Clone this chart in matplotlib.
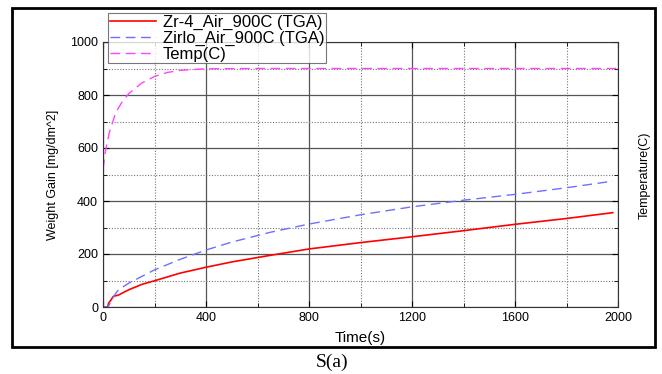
import numpy as np
import matplotlib.pyplot as plt
from matplotlib.patches import Rectangle
from matplotlib.ticker import MultipleLocator

plt.rcParams['font.family'] = ['Liberation Sans', 'DejaVu Sans']

# values
zr4_t = [0, 18, 22, 30, 40, 60, 100, 150, 200, 300, 400, 500, 650, 800, 1000, 1200, 1400, 1600, 1800, 1980]
zr4_w = [0, 0, 15, 25, 40, 45, 65, 85, 99, 128, 150, 170, 195, 219, 243, 265, 288, 312, 334, 356]

zirlo_t = [0, 20, 30, 45, 60, 100, 150, 200, 300, 400, 500, 650, 800, 1000, 1200, 1400, 1600, 1800, 1980]
zirlo_w = [0, 0, 20, 45, 65, 90, 115, 140, 180, 215, 245, 282, 313, 348, 378, 403, 425, 450, 475]

temp_t = [0, 10, 25, 50, 75, 100, 150, 200, 250, 300, 400, 600, 1000, 1500, 2000]
temp_c = [520, 590, 660, 735, 775, 805, 845, 870, 885, 893, 899, 900, 900, 900, 900]

fig = plt.figure(figsize=(6.62, 3.74), dpi=100)
ax = fig.add_axes([103/662, 1 - 307/374, 515/662, 265/374])

ax.plot(zr4_t, zr4_w, color='red', lw=1.2, label='Zr-4_Air_900C (TGA)')
ax.plot(zirlo_t, zirlo_w, color='#6f6fff', lw=1.0, ls=(0, (7, 4)), label='Zirlo_Air_900C (TGA)')
ax.plot(temp_t, temp_c, color='#ff44ff', lw=1.0, ls=(0, (7, 4)), label='Temp(C)')

ax.set_xlim(0, 2000)
ax.set_ylim(0, 1000)
ax.xaxis.set_major_locator(MultipleLocator(400))
ax.xaxis.set_minor_locator(MultipleLocator(200))
ax.yaxis.set_major_locator(MultipleLocator(200))
ax.yaxis.set_minor_locator(MultipleLocator(100))
ax.grid(which='major', color='#555555', lw=0.9)
ax.grid(which='minor', color='#777777', lw=0.8, ls=(0, (1, 1.5)))
ax.set_axisbelow(True)
ax.tick_params(which='both', direction='in', top=True, right=True, labelsize=9)
ax.tick_params(which='major', length=4)
ax.tick_params(which='minor', length=3)
for s in ax.spines.values():
    s.set_color('#333333')

ax.set_xlabel('Time(s)', fontsize=11, labelpad=5)
ax.set_ylabel('Weight Gain [mg/dm^2]', fontsize=9, labelpad=8)
fig.text(645/662, 1 - 175/374, 'Temperature(C)', rotation=90, ha='center', va='center', fontsize=9)

leg = ax.legend(loc='upper left', bbox_to_anchor=(108/662, 1 - 13/374), bbox_transform=fig.transFigure,
                fontsize=12, frameon=True, fancybox=False, borderpad=0.1, labelspacing=0.05,
                handlelength=2.8, handletextpad=0.4, borderaxespad=0)
leg.get_frame().set_edgecolor('#555555')
leg.get_frame().set_linewidth(0.8)

# outer border of the figure panel
fig.patches.append(Rectangle((12/662, 1 - 347/374), 643/662, 339/374, transform=fig.transFigure,
                             fill=False, edgecolor='black', lw=2))
fig.text(332/662, 1 - 362/374, 'S(a)', ha='center', va='center', fontsize=14, family='Liberation Serif')

fig.savefig('out.png', dpi=100)
